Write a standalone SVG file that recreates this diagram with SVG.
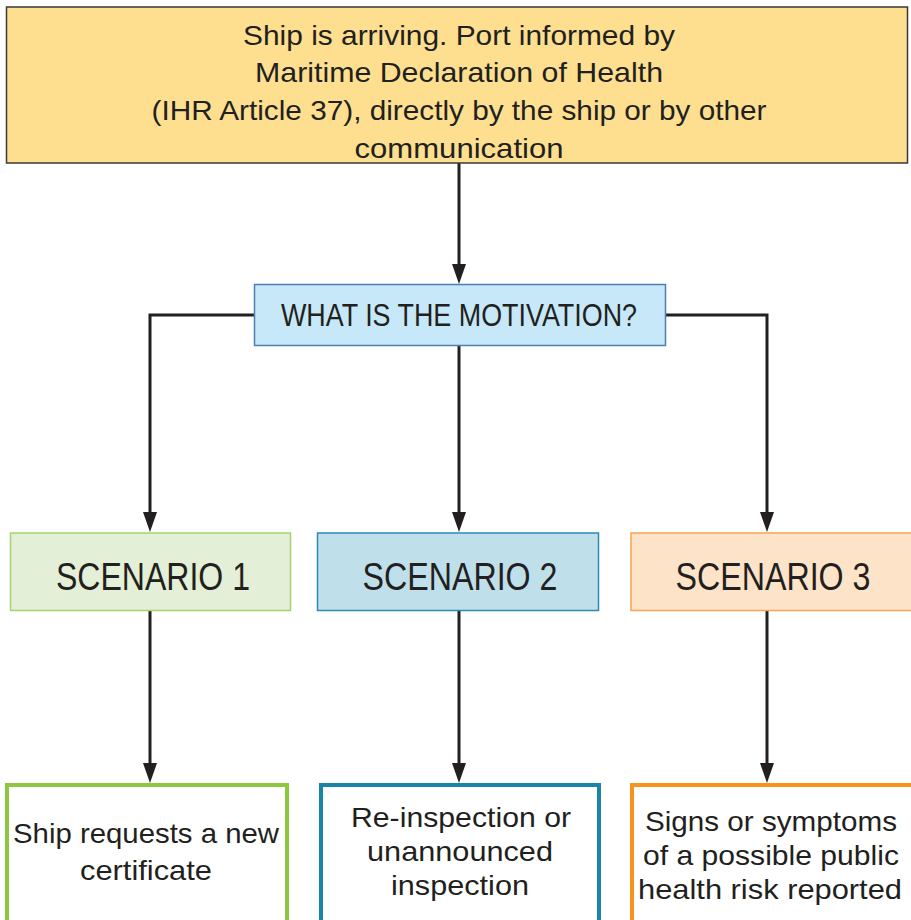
<svg xmlns="http://www.w3.org/2000/svg" width="911" height="920" viewBox="0 0 911 920">
  <style>
    text { font-family: "Liberation Sans", "Open Sans", sans-serif; fill: #231f20; text-anchor: middle; }
    .t-top { font-size: 28px; }
    .t-q { font-size: 31px; }
    .t-sc { font-size: 39px; }
    .t-out { font-size: 28px; }
    .link { fill: none; stroke: #231f20; stroke-width: 3; marker-end: url(#arrow); }
  </style>
  <defs>
    <marker id="arrow" viewBox="0 0 20 14" refX="10" refY="7" markerWidth="20" markerHeight="14" markerUnits="userSpaceOnUse" orient="auto">
      <path d="M0,0 L20,7 L0,14 Z" fill="#231f20"/>
    </marker>
  </defs>

  <!-- connectors -->
  <g id="connectors">
    <path class="link" d="M459,163 V274"/>
    <path class="link" d="M254,315 H150 V522"/>
    <path class="link" d="M459,346 V522"/>
    <path class="link" d="M666,315 H767 V522"/>
    <path class="link" d="M150,611 V773"/>
    <path class="link" d="M459,611 V773"/>
    <path class="link" d="M767,611 V773"/>
  </g>

  <!-- arrival notice -->
  <g id="arrival">
    <rect x="6.5" y="7" width="901" height="156" fill="#fddf8f" stroke="#3a3a3a" stroke-width="1.5"/>
    <text class="t-top" x="459" y="45" textLength="432" lengthAdjust="spacingAndGlyphs">Ship is arriving. Port informed by</text>
    <text class="t-top" x="459" y="82" textLength="408" lengthAdjust="spacingAndGlyphs">Maritime Declaration of Health</text>
    <text class="t-top" x="459" y="120" textLength="615" lengthAdjust="spacingAndGlyphs">(IHR Article 37), directly by the ship or by other</text>
    <text class="t-top" x="459" y="158" textLength="209" lengthAdjust="spacingAndGlyphs">communication</text>
  </g>

  <!-- decision -->
  <g id="motivation">
    <rect x="254.5" y="284.5" width="411" height="61" fill="#c7e8f8" stroke="#4d7fb5" stroke-width="1.5"/>
    <text class="t-q" x="459" y="326" textLength="356" lengthAdjust="spacingAndGlyphs">WHAT IS THE MOTIVATION?</text>
  </g>

  <!-- scenarios -->
  <g id="scenario1">
    <rect x="10.5" y="533" width="280" height="77.5" fill="#e3efd6" stroke="#a6d36c" stroke-width="1.5"/>
    <text class="t-sc" x="153" y="590" textLength="194" lengthAdjust="spacingAndGlyphs">SCENARIO 1</text>
  </g>
  <g id="scenario2">
    <rect x="317.5" y="533" width="281" height="77.5" fill="#bfdfeb" stroke="#2a8cb5" stroke-width="1.5"/>
    <text class="t-sc" x="460" y="590" textLength="195" lengthAdjust="spacingAndGlyphs">SCENARIO 2</text>
  </g>
  <g id="scenario3">
    <rect x="631" y="533" width="284" height="77.5" fill="#fde3c8" stroke="#f6a552" stroke-width="1.5"/>
    <text class="t-sc" x="773" y="590" textLength="195" lengthAdjust="spacingAndGlyphs">SCENARIO 3</text>
  </g>

  <!-- outcomes -->
  <g id="outcome1">
    <rect x="7" y="785" width="280" height="145" fill="#ffffff" stroke="#8dc63f" stroke-width="4"/>
    <text class="t-out" x="146" y="843" textLength="266" lengthAdjust="spacingAndGlyphs">Ship requests a new</text>
    <text class="t-out" x="146" y="880" textLength="132" lengthAdjust="spacingAndGlyphs">certificate</text>
  </g>
  <g id="outcome2">
    <rect x="321" y="785" width="278" height="145" fill="#ffffff" stroke="#1a85a8" stroke-width="4"/>
    <text class="t-out" x="461" y="827" textLength="220" lengthAdjust="spacingAndGlyphs">Re-inspection or</text>
    <text class="t-out" x="460" y="861" textLength="186" lengthAdjust="spacingAndGlyphs">unannounced</text>
    <text class="t-out" x="460" y="895" textLength="138" lengthAdjust="spacingAndGlyphs">inspection</text>
  </g>
  <g id="outcome3">
    <rect x="632" y="785" width="290" height="145" fill="#ffffff" stroke="#f7941d" stroke-width="4"/>
    <text class="t-out" x="771" y="831" textLength="252" lengthAdjust="spacingAndGlyphs">Signs or symptoms</text>
    <text class="t-out" x="771" y="865" textLength="256" lengthAdjust="spacingAndGlyphs">of a possible public</text>
    <text class="t-out" x="770" y="899" textLength="264" lengthAdjust="spacingAndGlyphs">health risk reported</text>
  </g>
</svg>
